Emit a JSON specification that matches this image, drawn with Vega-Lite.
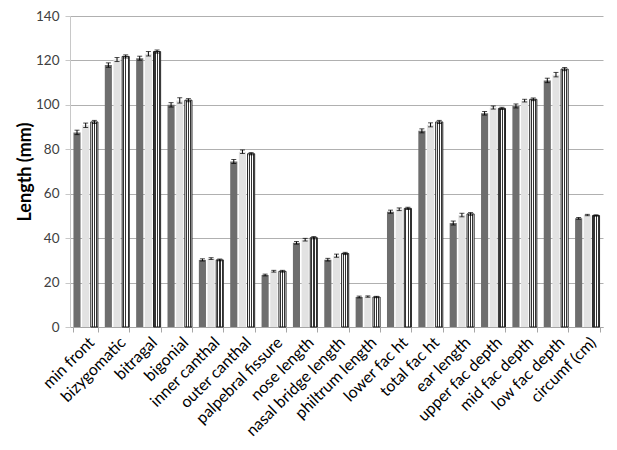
{
  "$schema": "https://vega.github.io/schema/vega-lite/v6.json",
  "width": 533,
  "height": 311,
  "autosize": "none",
  "padding": {"left": 70, "top": 16, "right": 14, "bottom": 123},
  "background": "white",
  "config": {"view": {"stroke": null}, "font": "Lato"},
  "data": {"values": [
    {"m": "min front", "s": "S1", "v": 87.6, "lo": 86.6, "hi": 88.6},
    {"m": "min front", "s": "S2", "v": 90.8, "lo": 89.8, "hi": 91.8},
    {"m": "min front", "s": "S3", "v": 92.3, "lo": 91.6, "hi": 93.0},
    {"m": "bizygomatic", "s": "S1", "v": 117.9, "lo": 116.9, "hi": 118.9},
    {"m": "bizygomatic", "s": "S2", "v": 120.4, "lo": 119.5, "hi": 121.3},
    {"m": "bizygomatic", "s": "S3", "v": 121.8, "lo": 121.1, "hi": 122.5},
    {"m": "bitragal", "s": "S1", "v": 121.0, "lo": 120.1, "hi": 121.9},
    {"m": "bitragal", "s": "S2", "v": 123.0, "lo": 122.0, "hi": 124.0},
    {"m": "bitragal", "s": "S3", "v": 124.0, "lo": 123.3, "hi": 124.7},
    {"m": "bigonial", "s": "S1", "v": 100.0, "lo": 99.0, "hi": 101.0},
    {"m": "bigonial", "s": "S2", "v": 102.0, "lo": 100.8, "hi": 103.2},
    {"m": "bigonial", "s": "S3", "v": 102.1, "lo": 101.4, "hi": 102.8},
    {"m": "inner canthal", "s": "S1", "v": 30.2, "lo": 29.7, "hi": 30.7},
    {"m": "inner canthal", "s": "S2", "v": 30.8, "lo": 30.4, "hi": 31.2},
    {"m": "inner canthal", "s": "S3", "v": 30.2, "lo": 29.8, "hi": 30.6},
    {"m": "outer canthal", "s": "S1", "v": 74.5, "lo": 73.6, "hi": 75.4},
    {"m": "outer canthal", "s": "S2", "v": 78.9, "lo": 78.1, "hi": 79.7},
    {"m": "outer canthal", "s": "S3", "v": 78.0, "lo": 77.5, "hi": 78.5},
    {"m": "palpebral fissure", "s": "S1", "v": 23.4, "lo": 23.0, "hi": 23.8},
    {"m": "palpebral fissure", "s": "S2", "v": 25.1, "lo": 24.7, "hi": 25.5},
    {"m": "palpebral fissure", "s": "S3", "v": 25.1, "lo": 24.7, "hi": 25.5},
    {"m": "nose length", "s": "S1", "v": 37.9, "lo": 37.3, "hi": 38.5},
    {"m": "nose length", "s": "S2", "v": 39.3, "lo": 38.7, "hi": 39.9},
    {"m": "nose length", "s": "S3", "v": 40.2, "lo": 39.7, "hi": 40.7},
    {"m": "nasal bridge length", "s": "S1", "v": 30.3, "lo": 29.7, "hi": 30.9},
    {"m": "nasal bridge length", "s": "S2", "v": 32.1, "lo": 31.4, "hi": 32.8},
    {"m": "nasal bridge length", "s": "S3", "v": 33.1, "lo": 32.6, "hi": 33.6},
    {"m": "philtrum length", "s": "S1", "v": 13.5, "lo": 13.1, "hi": 13.9},
    {"m": "philtrum length", "s": "S2", "v": 13.7, "lo": 13.4, "hi": 14.0},
    {"m": "philtrum length", "s": "S3", "v": 13.5, "lo": 13.2, "hi": 13.8},
    {"m": "lower fac ht", "s": "S1", "v": 51.9, "lo": 51.2, "hi": 52.6},
    {"m": "lower fac ht", "s": "S2", "v": 53.0, "lo": 52.4, "hi": 53.6},
    {"m": "lower fac ht", "s": "S3", "v": 53.4, "lo": 52.9, "hi": 53.9},
    {"m": "total fac ht", "s": "S1", "v": 88.3, "lo": 87.4, "hi": 89.2},
    {"m": "total fac ht", "s": "S2", "v": 91.0, "lo": 90.1, "hi": 91.9},
    {"m": "total fac ht", "s": "S3", "v": 92.3, "lo": 91.6, "hi": 93.0},
    {"m": "ear length", "s": "S1", "v": 46.8, "lo": 45.9, "hi": 47.7},
    {"m": "ear length", "s": "S2", "v": 50.4, "lo": 49.6, "hi": 51.2},
    {"m": "ear length", "s": "S3", "v": 50.9, "lo": 50.3, "hi": 51.5},
    {"m": "upper fac depth", "s": "S1", "v": 96.2, "lo": 95.4, "hi": 97.0},
    {"m": "upper fac depth", "s": "S2", "v": 98.8, "lo": 98.1, "hi": 99.5},
    {"m": "upper fac depth", "s": "S3", "v": 98.4, "lo": 97.9, "hi": 98.9},
    {"m": "mid fac depth", "s": "S1", "v": 99.5, "lo": 98.6, "hi": 100.4},
    {"m": "mid fac depth", "s": "S2", "v": 101.9, "lo": 101.3, "hi": 102.5},
    {"m": "mid fac depth", "s": "S3", "v": 102.5, "lo": 101.9, "hi": 103.1},
    {"m": "low fac depth", "s": "S1", "v": 111.0, "lo": 110.0, "hi": 112.0},
    {"m": "low fac depth", "s": "S2", "v": 113.6, "lo": 112.6, "hi": 114.6},
    {"m": "low fac depth", "s": "S3", "v": 116.1, "lo": 115.4, "hi": 116.8},
    {"m": "circumf (cm)", "s": "S1", "v": 48.9, "lo": 48.5, "hi": 49.3},
    {"m": "circumf (cm)", "s": "S2", "v": 50.4, "lo": 50.1, "hi": 50.7},
    {"m": "circumf (cm)", "s": "S3", "v": 50.2, "lo": 49.9, "hi": 50.5}
  ]},
  "encoding": {
    "x": {
      "field": "m", "type": "nominal", "sort": null,
      "scale": {"paddingInner": 0.22, "paddingOuter": 0.11},
      "axis": {
        "title": null, "labelAngle": -45, "labelFontSize": 16, "labelColor": "#000000",
        "tickBand": "extent", "tickSize": 5, "tickColor": "#a6a6a6", "domainColor": "#a6a6a6",
        "labelPadding": 2, "labelDx": 4
      }
    },
    "xOffset": {"field": "s", "type": "nominal", "scale": {"paddingInner": 0.18}}
  },
  "layer": [
    {
      "transform": [{"filter": "datum.s !== 'S3'"}],
      "mark": {"type": "bar"},
      "encoding": {
        "y": {
          "field": "v", "type": "quantitative", "scale": {"domain": [0, 140], "nice": false},
          "axis": {
            "title": "Length (mm)", "titleFontSize": 18, "titleFontWeight": "bold", "titleColor": "#000000",
            "titlePadding": 1, "values": [0, 20, 40, 60, 80, 100, 120, 140],
            "grid": true, "gridColor": "#b0b0b0", "domainColor": "#c8c8c8", "tickColor": "#c8c8c8",
            "tickSize": 5, "labelFontSize": 13.5, "labelColor": "#404040", "labelPadding": 6
          }
        },
        "fill": {"field": "s", "type": "nominal", "scale": {"domain": ["S1", "S2"], "range": ["#6e6e6e", "#e2e2e2"]}, "legend": null}
      }
    },
    {
      "transform": [{"filter": "datum.s === 'S3'"}],
      "mark": {
        "type": "bar", "stroke": "#222222", "strokeWidth": 1,
        "fill": {
          "gradient": "linear", "x1": 0, "y1": 0, "x2": 1, "y2": 0,
          "stops": [
            {"offset": 0, "color": "#ffffff"}, {"offset": 0.14, "color": "#ffffff"},
            {"offset": 0.14, "color": "#333333"}, {"offset": 0.3, "color": "#333333"},
            {"offset": 0.3, "color": "#ffffff"}, {"offset": 0.45, "color": "#ffffff"},
            {"offset": 0.45, "color": "#333333"}, {"offset": 0.61, "color": "#333333"},
            {"offset": 0.61, "color": "#ffffff"}, {"offset": 0.76, "color": "#ffffff"},
            {"offset": 0.76, "color": "#333333"}, {"offset": 0.9, "color": "#333333"},
            {"offset": 0.9, "color": "#ffffff"}, {"offset": 1, "color": "#ffffff"}
          ]
        }
      },
      "encoding": {"y": {"field": "v", "type": "quantitative"}}
    },
    {
      "mark": {"type": "rule", "color": "#000000", "strokeWidth": 1},
      "encoding": {"y": {"field": "lo", "type": "quantitative"}, "y2": {"field": "hi"}}
    },
    {
      "mark": {"type": "tick", "color": "#000000", "size": 5, "thickness": 1},
      "encoding": {"y": {"field": "lo", "type": "quantitative"}}
    },
    {
      "mark": {"type": "tick", "color": "#000000", "size": 5, "thickness": 1},
      "encoding": {"y": {"field": "hi", "type": "quantitative"}}
    }
  ]
}
